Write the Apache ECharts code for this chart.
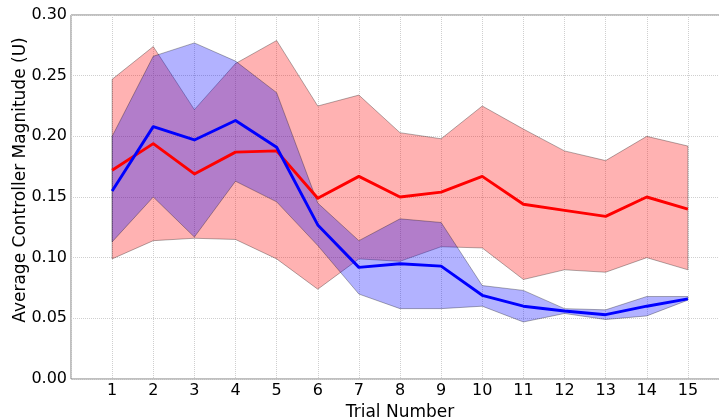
<!DOCTYPE html>
<html>
<head>
<meta charset="utf-8">
<script src="https://cdn.jsdelivr.net/npm/echarts@6/dist/echarts.min.js"></script>
<style>
  html, body { margin: 0; padding: 0; background: #fff; }
  #chart { width: 719px; height: 420px; }
</style>
</head>
<body>
<div id="chart"></div>
<script>
// values
var trials = [1, 2, 3, 4, 5, 6, 7, 8, 9, 10, 11, 12, 13, 14, 15]
var redMean = [0.172, 0.194, 0.169, 0.187, 0.188, 0.149, 0.167, 0.150, 0.154, 0.167, 0.144, 0.139, 0.134, 0.150, 0.140]
var redUpper = [0.247, 0.274, 0.222, 0.260, 0.279, 0.225, 0.234, 0.203, 0.198, 0.225, 0.206, 0.188, 0.180, 0.200, 0.192]
var redLower = [0.099, 0.114, 0.116, 0.115, 0.099, 0.074, 0.099, 0.097, 0.109, 0.108, 0.082, 0.090, 0.088, 0.100, 0.090]
var blueMean = [0.155, 0.208, 0.197, 0.213, 0.191, 0.127, 0.092, 0.095, 0.093, 0.069, 0.060, 0.056, 0.053, 0.060, 0.066]
var blueUpper = [0.200, 0.266, 0.277, 0.262, 0.236, 0.145, 0.114, 0.132, 0.129, 0.077, 0.073, 0.058, 0.057, 0.068, 0.068]
var blueLower = [0.113, 0.150, 0.117, 0.163, 0.146, 0.110, 0.070, 0.058, 0.058, 0.060, 0.047, 0.054, 0.049, 0.052, 0.065]
var yTicks = [0, 0.05, 0.10, 0.15, 0.20, 0.25, 0.30]

var font = 'DejaVu Sans'

function pairs(ys) {
  return trials.map(function (t, i) { return [t, ys[i]] })
}

// shaded band between low and up, drawn as one polygon through the axes
function band(low, up, fill) {
  var rows = trials.map(function (t, i) { return [t, low[i], up[i]] })
  return {
    type: 'custom',
    silent: true,
    data: rows,
    encode: { x: 0, y: [1, 2] },
    renderItem: function (params, api) {
      if (params.dataIndex !== 0) return null
      var pts = []
      rows.forEach(function (r) { pts.push(api.coord([r[0], r[2]])) })
      rows.slice().reverse().forEach(function (r) { pts.push(api.coord([r[0], r[1]])) })
      return {
        type: 'polygon',
        shape: { points: pts },
        style: { fill: fill, stroke: 'rgba(0,0,0,0.3)', lineWidth: 1 }
      }
    }
  }
}

function meanLine(ys, color) {
  return {
    type: 'line', data: pairs(ys), symbol: 'none',
    lineStyle: { color: color, width: 2.9, join: 'round' }
  }
}

var chart = echarts.init(document.getElementById('chart'))
chart.setOption({
  animation: false,
  grid: {
    left: 71, width: 658, top: 15, bottom: 41,
    outerBoundsMode: 'none', containLabel: false,
    show: true, borderColor: '#808080', borderWidth: 1
  },
  xAxis: {
    type: 'value', min: 0, max: 16, interval: 1,
    name: 'Trial Number', nameLocation: 'middle', nameGap: 21,
    nameTextStyle: { fontFamily: font, fontSize: 17, color: '#000' },
    axisLine: { show: false },
    axisTick: { show: false },
    axisLabel: {
      fontFamily: font, fontSize: 16, color: '#000', margin: 4,
      formatter: function (v) { return trials.indexOf(v) >= 0 ? String(v) : '' }
    },
    splitLine: { lineStyle: { color: '#cfcfcf', type: 'dotted', width: 1 } }
  },
  yAxis: {
    type: 'value', min: yTicks[0], max: yTicks[yTicks.length - 1], interval: 0.05,
    axisLine: { show: false },
    axisTick: { show: false },
    axisLabel: {
      fontFamily: font, fontSize: 16, color: '#000', margin: 4,
      formatter: function (v) { return v.toFixed(2) }
    },
    splitLine: { lineStyle: { color: '#cfcfcf', type: 'dotted', width: 1 } }
  },
  graphic: [
    {
      type: 'text', x: 21, y: 180, rotation: Math.PI / 2,
      style: {
        text: 'Average Controller Magnitude (U)',
        fontFamily: font, fontSize: 17, fill: '#000',
        align: 'center', verticalAlign: 'middle'
      }
    }
  ],
  series: [
    band(redLower, redUpper, 'rgba(255,0,0,0.3)'),
    band(blueLower, blueUpper, 'rgba(0,0,255,0.3)'),
    meanLine(redMean, '#ff0000'),
    meanLine(blueMean, '#0000ff')
  ]
})
</script>
</body>
</html>
